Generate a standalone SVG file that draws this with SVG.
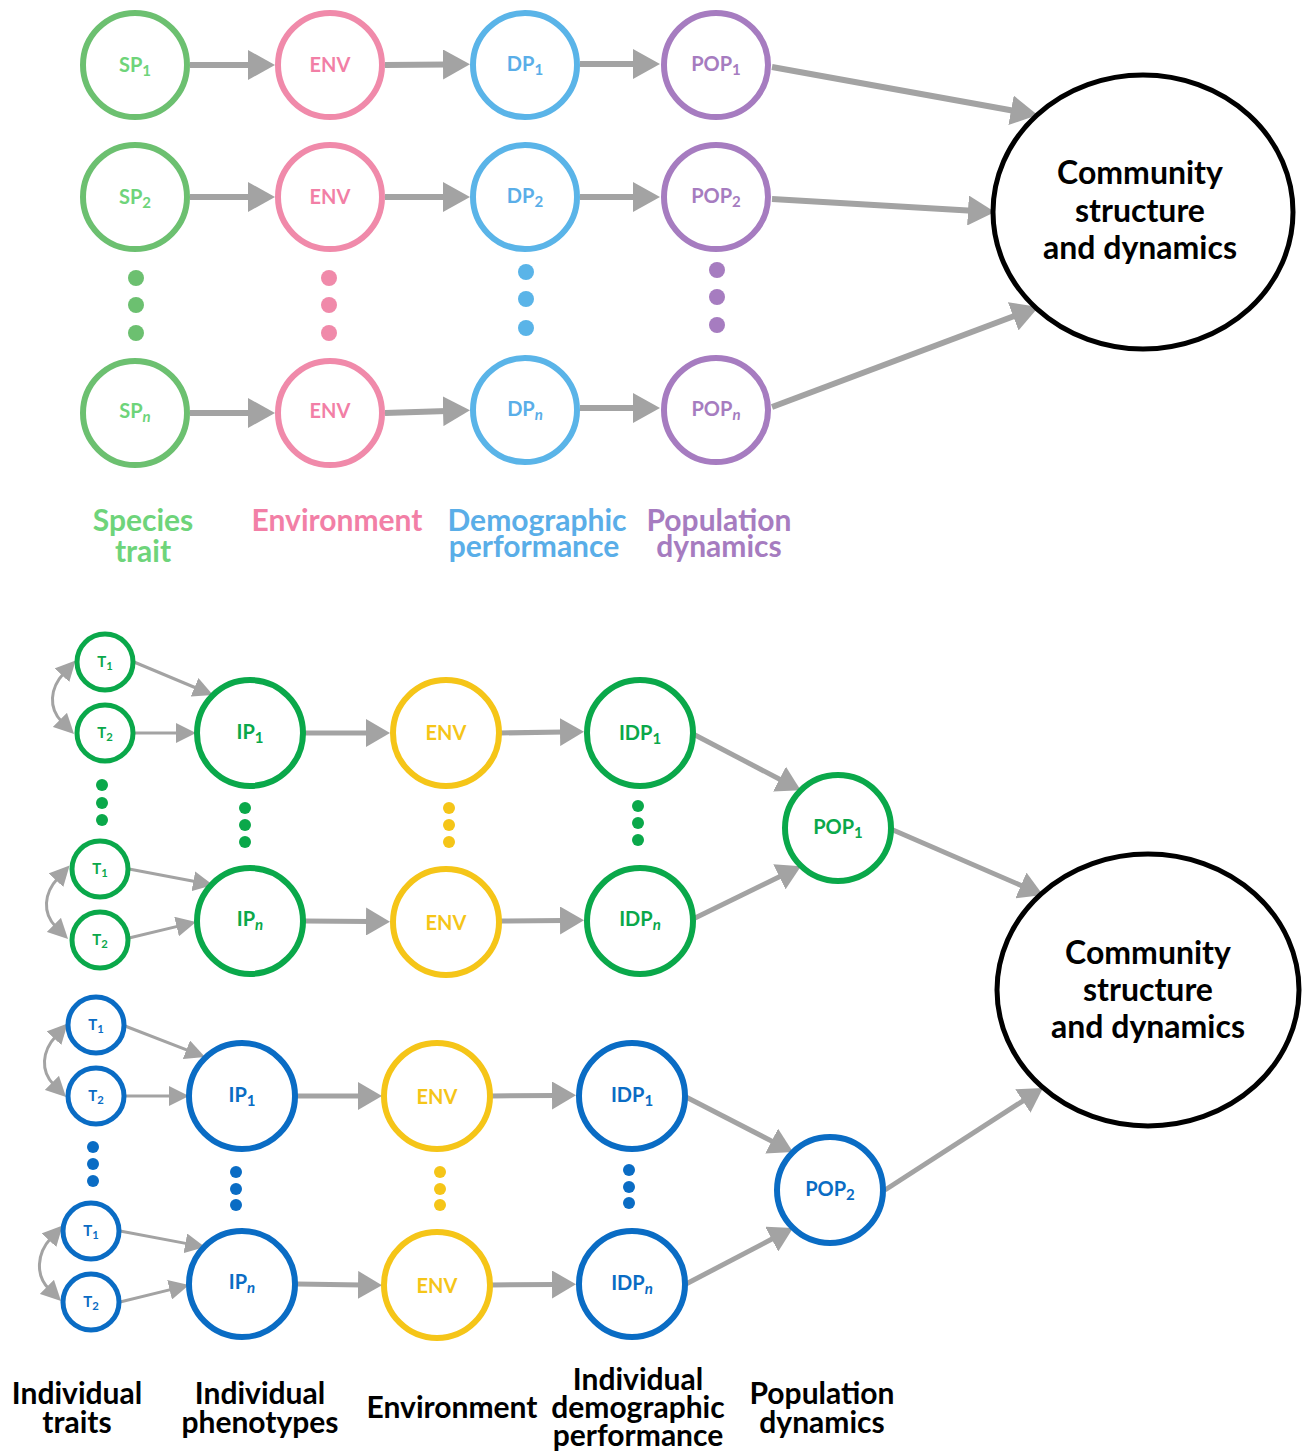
<svg xmlns="http://www.w3.org/2000/svg" width="1303" height="1452" viewBox="0 0 1303 1452">
<style>
  text { font-family: Lato, "Open Sans", "Liberation Sans", sans-serif; font-weight: bold; }
  .n { fill: #fff; stroke-width: 6; }
  .t { fill: #fff; stroke-width: 5; }
  .lbl { font-size: 20px; text-anchor: middle; }
  .sm { font-size: 15px; text-anchor: middle; }
  .sub { font-size: 0.75em; }
  .cat { font-size: 30px; text-anchor: middle; }
  .big { font-size: 32px; text-anchor: middle; fill: #000; }
  .g1 { stroke: #6cc070; } .g1t { fill: #6ed47a; }
  .pk { stroke: #f08aaa; } .pkt { fill: #f27fa6; }
  .bl { stroke: #5ab4e8; } .blt { fill: #5aaee8; }
  .pu { stroke: #a67cc0; } .put { fill: #a67cc0; }
  .gr { stroke: #0aa84a; } .grt { fill: #0aa84a; }
  .be { stroke: #0a6cc4; } .bet { fill: #0a6cc4; }
  .ye { stroke: #f5c518; } .yet { fill: #f5c518; }
  .a6 { stroke: #a3a3a3; stroke-width: 6; fill: none; marker-end: url(#hb); }
  .a5 { stroke: #a3a3a3; stroke-width: 5; fill: none; marker-end: url(#hm); }
  .a3 { stroke: #a3a3a3; stroke-width: 3; fill: none; marker-end: url(#hs); }
  .a2 { stroke: #a3a3a3; stroke-width: 3; fill: none; marker-end: url(#hs); marker-start: url(#hs); }
</style>
<defs>
  <marker id="hb" markerUnits="userSpaceOnUse" markerWidth="28" markerHeight="30" refX="4" refY="15" orient="auto">
    <path d="M0,0 L27,15 L0,30 z" fill="#a3a3a3"/>
  </marker>
  <marker id="hm" markerUnits="userSpaceOnUse" markerWidth="25" markerHeight="28" refX="4" refY="14" orient="auto">
    <path d="M0,0 L24,14 L0,28 z" fill="#a3a3a3"/>
  </marker>
  <marker id="hs" markerUnits="userSpaceOnUse" markerWidth="21" markerHeight="20" refX="3" refY="10" orient="auto-start-reverse">
    <path d="M0,0 L20,10 L0,20 z" fill="#a3a3a3"/>
  </marker>
</defs>

<g id="connectors">
  <!-- top -->
  <line class="a6" x1="190" y1="65" x2="252" y2="65"/>
  <line class="a6" x1="385" y1="65" x2="447" y2="64.5"/>
  <line class="a6" x1="580" y1="64" x2="637" y2="64"/>
  <line class="a6" x1="190" y1="197" x2="252" y2="197"/>
  <line class="a6" x1="385" y1="197" x2="447" y2="197"/>
  <line class="a6" x1="580" y1="197" x2="637" y2="197"/>
  <line class="a6" x1="190" y1="413" x2="252" y2="413"/>
  <line class="a6" x1="385" y1="413" x2="447" y2="411"/>
  <line class="a6" x1="580" y1="408" x2="637" y2="408"/>
  <line class="a6" x1="772" y1="67" x2="1015" y2="111"/>
  <line class="a6" x1="772" y1="199" x2="972" y2="210.7"/>
  <line class="a6" x1="772" y1="407" x2="1017" y2="315"/>
  <!-- green group -->
  <line class="a3" x1="134" y1="662" x2="197.3" y2="688.5"/>
  <line class="a3" x1="134" y1="733" x2="179" y2="733"/>
  <line class="a3" x1="129" y1="869" x2="196.3" y2="881.8"/>
  <line class="a3" x1="129" y1="938" x2="179.5" y2="925.9"/>
  <path class="a2" d="M 64,673 C 50,688 48,708 62,722"/>
  <path class="a2" d="M 58,878 C 44,893 42,913 56,927"/>
  <line class="a5" x1="305" y1="733" x2="370" y2="733"/>
  <line class="a5" x1="500" y1="733" x2="564" y2="732"/>
  <line class="a5" x1="305" y1="921" x2="370" y2="921.5"/>
  <line class="a5" x1="500" y1="921" x2="564" y2="920.5"/>
  <line class="a5" x1="695" y1="735" x2="783" y2="781"/>
  <line class="a5" x1="695" y1="918" x2="783" y2="875"/>
  <line class="a5" x1="893" y1="830" x2="1024.6" y2="887"/>
  <!-- blue group -->
  <line class="a3" x1="125" y1="1026" x2="189.2" y2="1050.9"/>
  <line class="a3" x1="125" y1="1096" x2="172" y2="1096"/>
  <line class="a3" x1="120" y1="1231" x2="188.3" y2="1243.9"/>
  <line class="a3" x1="120" y1="1302" x2="172.5" y2="1289.1"/>
  <path class="a2" d="M 56,1036 C 42,1051 40,1071 54,1085"/>
  <path class="a2" d="M 51,1238 C 37,1253 35,1275 49,1289"/>
  <line class="a5" x1="297" y1="1096" x2="362" y2="1096"/>
  <line class="a5" x1="491" y1="1096" x2="556" y2="1095.5"/>
  <line class="a5" x1="297" y1="1284" x2="362" y2="1285"/>
  <line class="a5" x1="491" y1="1285" x2="556" y2="1284.5"/>
  <line class="a5" x1="686" y1="1097" x2="775.2" y2="1142.9"/>
  <line class="a5" x1="686" y1="1284" x2="775.3" y2="1237.3"/>
  <line class="a5" x1="885" y1="1190" x2="1026.2" y2="1098.8"/>
</g>

<!-- ===== top section ===== -->
<g id="SP1"><circle class="n g1" cx="135" cy="65" r="52"/><text class="lbl g1t" x="135" y="72">SP<tspan class="sub" dy="4">1</tspan></text></g>
<g id="SP2"><circle class="n g1" cx="135" cy="197" r="52"/><text class="lbl g1t" x="135" y="204">SP<tspan class="sub" dy="4">2</tspan></text></g>
<g id="SPn"><circle class="n g1" cx="135" cy="413" r="52"/><text class="lbl g1t" x="135" y="418">SP<tspan class="sub" dy="4" font-style="italic">n</tspan></text></g>
<g id="ENV1"><circle class="n pk" cx="330" cy="65" r="52"/><text class="lbl pkt" x="330" y="72">ENV</text></g>
<g id="ENV2"><circle class="n pk" cx="330" cy="197" r="52"/><text class="lbl pkt" x="330" y="204">ENV</text></g>
<g id="ENVn"><circle class="n pk" cx="330" cy="413" r="52"/><text class="lbl pkt" x="330" y="418">ENV</text></g>
<g id="DP1"><circle class="n bl" cx="525" cy="65" r="52"/><text class="lbl blt" x="525" y="71">DP<tspan class="sub" dy="4">1</tspan></text></g>
<g id="DP2"><circle class="n bl" cx="525" cy="197" r="52"/><text class="lbl blt" x="525" y="203">DP<tspan class="sub" dy="4">2</tspan></text></g>
<g id="DPn"><circle class="n bl" cx="525" cy="410" r="52"/><text class="lbl blt" x="525" y="416">DP<tspan class="sub" dy="4" font-style="italic">n</tspan></text></g>
<g id="POP1"><circle class="n pu" cx="716" cy="65" r="52"/><text class="lbl put" x="716" y="71">POP<tspan class="sub" dy="4">1</tspan></text></g>
<g id="POP2"><circle class="n pu" cx="716" cy="197" r="52"/><text class="lbl put" x="716" y="203">POP<tspan class="sub" dy="4">2</tspan></text></g>
<g id="POPn"><circle class="n pu" cx="716" cy="410" r="52"/><text class="lbl put" x="716" y="416">POP<tspan class="sub" dy="4" font-style="italic">n</tspan></text></g>
<g id="dots-top">
  <circle cx="136" cy="278" r="8" fill="#6cc070"/><circle cx="136" cy="305" r="8" fill="#6cc070"/><circle cx="136" cy="333" r="8" fill="#6cc070"/>
  <circle cx="329" cy="278" r="8" fill="#f08aaa"/><circle cx="329" cy="305" r="8" fill="#f08aaa"/><circle cx="329" cy="333" r="8" fill="#f08aaa"/>
  <circle cx="526" cy="272" r="8" fill="#5ab4e8"/><circle cx="526" cy="299" r="8" fill="#5ab4e8"/><circle cx="526" cy="328" r="8" fill="#5ab4e8"/>
  <circle cx="717" cy="270" r="8" fill="#a67cc0"/><circle cx="717" cy="297" r="8" fill="#a67cc0"/><circle cx="717" cy="325" r="8" fill="#a67cc0"/>
</g>
<g id="community1">
  <ellipse cx="1143" cy="212" rx="150" ry="137" fill="#fff" stroke="#000" stroke-width="5"/>
  <text class="big" x="1140" y="184">Community</text>
  <text class="big" x="1140" y="222">structure</text>
  <text class="big" x="1140" y="259">and dynamics</text>
</g>
<g id="labels-top">
  <text class="cat g1t" x="143" y="531">Species</text>
  <text class="cat g1t" x="143" y="562">trait</text>
  <text class="cat pkt" x="337" y="531">Environment</text>
  <text class="cat blt" x="537" y="531">Demographic</text>
  <text class="cat blt" x="534" y="557">performance</text>
  <text class="cat put" x="719" y="531">Population</text>
  <text class="cat put" x="719" y="557">dynamics</text>
</g>

<!-- ===== green group ===== -->
<g id="gT1a"><circle class="t gr" cx="105" cy="662" r="28"/><text class="sm grt" x="105" y="667">T<tspan class="sub" dy="3">1</tspan></text></g>
<g id="gT2a"><circle class="t gr" cx="105" cy="733" r="28"/><text class="sm grt" x="105" y="738">T<tspan class="sub" dy="3">2</tspan></text></g>
<g id="gT1b"><circle class="t gr" cx="100" cy="869" r="28"/><text class="sm grt" x="100" y="874">T<tspan class="sub" dy="3">1</tspan></text></g>
<g id="gT2b"><circle class="t gr" cx="100" cy="940" r="28"/><text class="sm grt" x="100" y="945">T<tspan class="sub" dy="3">2</tspan></text></g>
<g id="gIP1"><circle class="n gr" cx="250" cy="733" r="53"/><text class="lbl grt" x="250" y="739">IP<tspan class="sub" dy="4">1</tspan></text></g>
<g id="gIPn"><circle class="n gr" cx="250" cy="921" r="53"/><text class="lbl grt" x="250" y="926">IP<tspan class="sub" dy="4" font-style="italic">n</tspan></text></g>
<g id="gENV1"><circle class="n ye" cx="446" cy="733" r="53"/><text class="lbl yet" x="446" y="740">ENV</text></g>
<g id="gENVn"><circle class="n ye" cx="446" cy="922" r="53"/><text class="lbl yet" x="446" y="930">ENV</text></g>
<g id="gIDP1"><circle class="n gr" cx="640" cy="733" r="53"/><text class="lbl grt" x="640" y="740">IDP<tspan class="sub" dy="4">1</tspan></text></g>
<g id="gIDPn"><circle class="n gr" cx="640" cy="921" r="53"/><text class="lbl grt" x="640" y="926">IDP<tspan class="sub" dy="4" font-style="italic">n</tspan></text></g>
<g id="gPOP1"><circle class="n gr" cx="838" cy="828" r="53"/><text class="lbl grt" x="838" y="834">POP<tspan class="sub" dy="4">1</tspan></text></g>
<g id="dots-green">
  <circle cx="102" cy="785" r="6" fill="#0aa84a"/><circle cx="102" cy="803" r="6" fill="#0aa84a"/><circle cx="102" cy="820" r="6" fill="#0aa84a"/>
  <circle cx="245" cy="808" r="6" fill="#0aa84a"/><circle cx="245" cy="825" r="6" fill="#0aa84a"/><circle cx="245" cy="842" r="6" fill="#0aa84a"/>
  <circle cx="449" cy="808" r="6" fill="#f5c518"/><circle cx="449" cy="825" r="6" fill="#f5c518"/><circle cx="449" cy="842" r="6" fill="#f5c518"/>
  <circle cx="638" cy="806" r="6" fill="#0aa84a"/><circle cx="638" cy="823" r="6" fill="#0aa84a"/><circle cx="638" cy="840" r="6" fill="#0aa84a"/>
</g>

<!-- ===== blue group ===== -->
<g id="bT1a"><circle class="t be" cx="96" cy="1025" r="28"/><text class="sm bet" x="96" y="1030">T<tspan class="sub" dy="3">1</tspan></text></g>
<g id="bT2a"><circle class="t be" cx="96" cy="1096" r="28"/><text class="sm bet" x="96" y="1101">T<tspan class="sub" dy="3">2</tspan></text></g>
<g id="bT1b"><circle class="t be" cx="91" cy="1231" r="28"/><text class="sm bet" x="91" y="1236">T<tspan class="sub" dy="3">1</tspan></text></g>
<g id="bT2b"><circle class="t be" cx="91" cy="1302" r="28"/><text class="sm bet" x="91" y="1307">T<tspan class="sub" dy="3">2</tspan></text></g>
<g id="bIP1"><circle class="n be" cx="242" cy="1096" r="53"/><text class="lbl bet" x="242" y="1102">IP<tspan class="sub" dy="4">1</tspan></text></g>
<g id="bIPn"><circle class="n be" cx="242" cy="1284" r="53"/><text class="lbl bet" x="242" y="1289">IP<tspan class="sub" dy="4" font-style="italic">n</tspan></text></g>
<g id="bENV1"><circle class="n ye" cx="437" cy="1096" r="53"/><text class="lbl yet" x="437" y="1104">ENV</text></g>
<g id="bENVn"><circle class="n ye" cx="437" cy="1285" r="53"/><text class="lbl yet" x="437" y="1293">ENV</text></g>
<g id="bIDP1"><circle class="n be" cx="632" cy="1096" r="53"/><text class="lbl bet" x="632" y="1102">IDP<tspan class="sub" dy="4">1</tspan></text></g>
<g id="bIDPn"><circle class="n be" cx="632" cy="1284" r="53"/><text class="lbl bet" x="632" y="1290">IDP<tspan class="sub" dy="4" font-style="italic">n</tspan></text></g>
<g id="bPOP2"><circle class="n be" cx="830" cy="1190" r="53"/><text class="lbl bet" x="830" y="1196">POP<tspan class="sub" dy="4">2</tspan></text></g>
<g id="dots-blue">
  <circle cx="93" cy="1147" r="6" fill="#0a6cc4"/><circle cx="93" cy="1164" r="6" fill="#0a6cc4"/><circle cx="93" cy="1181" r="6" fill="#0a6cc4"/>
  <circle cx="236" cy="1172" r="6" fill="#0a6cc4"/><circle cx="236" cy="1189" r="6" fill="#0a6cc4"/><circle cx="236" cy="1205" r="6" fill="#0a6cc4"/>
  <circle cx="440" cy="1172" r="6" fill="#f5c518"/><circle cx="440" cy="1189" r="6" fill="#f5c518"/><circle cx="440" cy="1205" r="6" fill="#f5c518"/>
  <circle cx="629" cy="1170" r="6" fill="#0a6cc4"/><circle cx="629" cy="1187" r="6" fill="#0a6cc4"/><circle cx="629" cy="1203" r="6" fill="#0a6cc4"/>
</g>

<g id="community2">
  <ellipse cx="1148" cy="990" rx="151" ry="136" fill="#fff" stroke="#000" stroke-width="5"/>
  <text class="big" x="1148" y="964">Community</text>
  <text class="big" x="1148" y="1001">structure</text>
  <text class="big" x="1148" y="1038">and dynamics</text>
</g>

<g id="labels-bottom">
  <text class="cat" x="77" y="1404">Individual</text>
  <text class="cat" x="77" y="1433">traits</text>
  <text class="cat" x="260" y="1404">Individual</text>
  <text class="cat" x="260" y="1433">phenotypes</text>
  <text class="cat" x="452" y="1418">Environment</text>
  <text class="cat" x="638" y="1390">Individual</text>
  <text class="cat" x="638" y="1418">demographic</text>
  <text class="cat" x="638" y="1446">performance</text>
  <text class="cat" x="822" y="1404">Population</text>
  <text class="cat" x="822" y="1433">dynamics</text>
</g>
</svg>
